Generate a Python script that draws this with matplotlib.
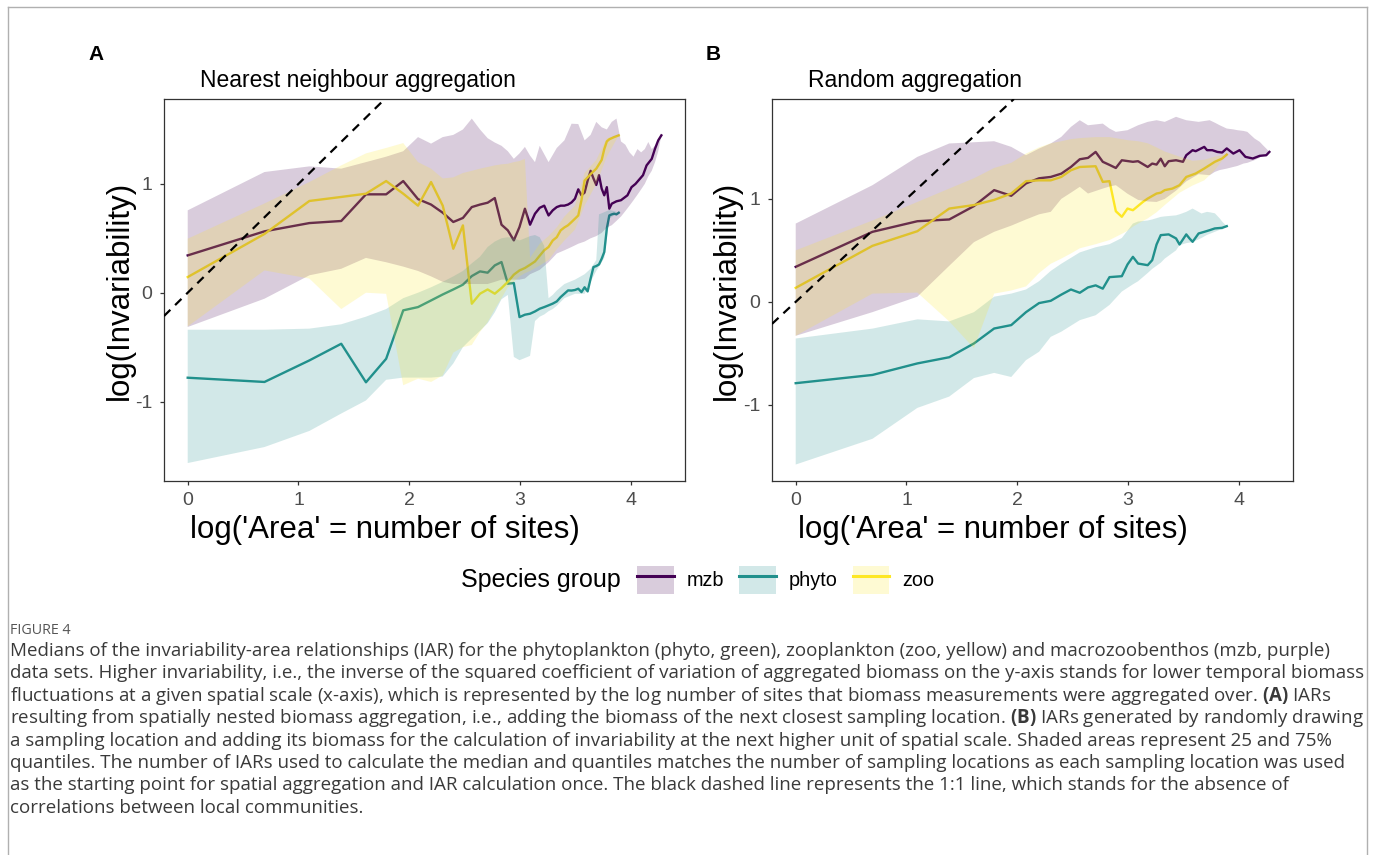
import matplotlib
matplotlib.use('Agg')
import matplotlib.pyplot as plt
from matplotlib.patches import Patch
from matplotlib.lines import Line2D
import numpy as np

plt.rcParams['font.family'] = ['Liberation Sans', 'DejaVu Sans']
plt.rcParams['axes.unicode_minus'] = False
plt.rcParams['mathtext.fontset'] = 'custom'
plt.rcParams['mathtext.rm'] = 'Open Sans'
plt.rcParams['mathtext.bf'] = 'Open Sans:bold'

# ---- Panel A : nearest neighbour aggregation ----
a_mzb_sites = [1, 2, 3, 4, 5, 6, 7, 8, 9, 10, 11, 12, 13, 14, 15, 16, 17, 18, 19, 20,
               21, 22, 23, 24, 25, 26, 27, 28, 29, 30, 31, 32, 33, 34, 35, 36, 37, 38, 39, 40,
               41, 42, 43, 44, 45, 46, 48, 50, 53, 55, 57, 61, 63, 66, 68, 70, 72]
a_mzb_med = [0.343, 0.564, 0.640, 0.659, 0.904, 0.904, 1.026, 0.86, 0.81, 0.735, 0.65, 0.687,
             0.787, 0.81, 0.827, 0.87, 0.625, 0.573, 0.481, 0.604, 0.772, 0.625, 0.726, 0.78,
             0.80, 0.71, 0.757, 0.787, 0.80, 0.80, 0.81, 0.83, 0.864, 0.95, 0.895, 0.92, 1.03,
             1.12, 1.05, 0.99, 1.08, 0.956, 0.895, 0.97, 0.772, 0.818, 0.84, 0.85, 0.895, 0.97,
             1.0, 1.08, 1.17, 1.23, 1.324, 1.40, 1.446]
a_mzb_qsites = [1, 2, 3, 4, 5, 6, 7, 8, 9, 10, 11, 12, 13, 14, 15, 16, 17, 18, 19, 20, 21, 22,
                23, 24, 26, 28, 30, 32, 34, 36, 38, 40, 42, 44, 46, 48, 50, 52, 54, 56, 58, 60,
                62, 64, 66, 68, 70, 72]
a_mzb_q75 = [0.757, 1.109, 1.161, 1.14, 1.2, 1.25, 1.3, 1.43, 1.37, 1.43, 1.45, 1.5, 1.60, 1.5,
             1.42, 1.38, 1.35, 1.3, 1.23, 1.28, 1.34, 1.26, 1.2, 1.35, 1.2, 1.33, 1.40, 1.553,
             1.55, 1.40, 1.45, 1.57, 1.52, 1.50, 1.57, 1.60, 1.39, 1.36, 1.29, 1.25, 1.32, 1.29,
             1.32, 1.385, 1.32, 1.35, 1.37, 1.446]
a_mzb_q25 = [-0.315, -0.055, 0.16, 0.22, 0.32, 0.28, 0.24, 0.2, 0.15, 0.1, 0.08, 0.08, 0.08,
             0.08, 0.08, 0.1, 0.12, 0.12, 0.12, 0.12, 0.13, 0.17, 0.19, 0.21, 0.28, 0.36, 0.39,
             0.42, 0.45, 0.47, 0.5, 0.52, 0.55, 0.6, 0.62, 0.66, 0.7, 0.75, 0.8, 0.85, 0.9, 0.95,
             1.0, 1.07, 1.12, 1.2, 1.3, 1.446]

a_phyto_sites = list(range(1, 50))
a_phyto_med = [-0.781, -0.82, -0.622, -0.469, -0.823, -0.607, -0.162, -0.132, -0.071, -0.016,
               0.03, 0.074, 0.153, 0.196, 0.184, 0.251, 0.282, 0.083, 0.089, -0.224, -0.202,
               -0.193, -0.172, -0.147, -0.132, -0.116, -0.1, -0.08, -0.04, -0.009, 0.021, 0.02,
               0.025, 0.037, 0.006, 0.05, 0.012, 0.129, 0.236, 0.245, 0.26, 0.312, 0.374, 0.59,
               0.71, 0.72, 0.726, 0.72, 0.735]
a_phyto_qsites = [1, 2, 3, 4, 5, 6, 7, 8, 9, 10, 11, 12, 13, 14, 15, 16, 17, 18, 19, 20, 21, 22,
                  23, 24, 25, 26, 27, 28, 30, 33, 36, 38, 40, 41, 42, 43, 44, 45, 47, 49]
a_phyto_q75 = [-0.34, -0.34, -0.33, -0.29, -0.22, -0.15, -0.05, 0.0, 0.05, 0.1, 0.15, 0.2, 0.27,
               0.33, 0.42, 0.47, 0.5, 0.51, 0.5, 0.48, 0.5, 0.52, 0.53, 0.51, 0.43, -0.05, -0.02,
               0.02, 0.08, 0.12, 0.17, 0.22, 0.3, 0.72, 0.73, 0.74, 0.75, 0.76, 0.75, 0.735]
a_phyto_q25 = [-1.565, -1.418, -1.27, -1.11, -0.99, -0.8, -0.78, -0.78, -0.78, -0.77, -0.65,
               -0.5, -0.42, -0.35, -0.28, -0.18, -0.06, -0.02, -0.59, -0.62, -0.6, -0.58, -0.26,
               -0.22, -0.2, -0.17, -0.15, -0.12, -0.05, -0.01, -0.01, 0.1, 0.2, 0.24, 0.28, 0.32,
               0.5, 0.68, 0.71, 0.735]

a_zoo_sites = list(range(1, 36)) + [36, 37, 38, 40, 41, 42, 43, 44, 45, 47, 49]
a_zoo_med = [0.144, 0.54, 0.843, 0.88, 0.91, 1.026, 0.91, 0.80, 1.017, 0.80, 0.404, 0.619,
             -0.101, -0.009, 0.03, -0.009, 0.043, 0.1, 0.166, 0.205, 0.227, 0.257, 0.287, 0.34,
             0.39, 0.42, 0.48, 0.51, 0.573, 0.6, 0.62, 0.65, 0.68, 0.71, 0.85, 1.03, 1.06, 1.09,
             1.14, 1.18, 1.22, 1.32, 1.39, 1.41, 1.43, 1.446]
a_zoo_qsites = [1, 2, 3, 4, 5, 6, 7, 8, 9, 10, 11, 12, 13, 14, 15, 16, 17, 18, 19, 20, 21, 22,
                24, 26, 28, 30, 33, 36, 40, 44, 49]
a_zoo_q75 = [0.496, 0.82, 1.017, 1.17, 1.28, 1.33, 1.375, 1.2, 1.14, 1.05, 1.06, 1.1, 1.12, 1.14,
             1.155, 1.17, 1.18, 1.185, 1.2, 1.21, 1.23, 0.32, 0.45, 0.52, 0.6, 0.7, 0.8, 1.1,
             1.22, 1.42, 1.446]
a_zoo_q25 = [-0.31, 0.205, 0.13, -0.15, 0.0, -0.01, -0.85, -0.79, -0.82, -0.76, -0.55, -0.5,
             -0.48, -0.36, -0.27, -0.15, -0.05, 0.05, 0.1, 0.15, 0.18, 0.2, 0.25, 0.3, 0.4, 0.48,
             0.58, 0.8, 1.0, 1.25, 1.446]

# ---- Panel B : random aggregation ----
b_mzb_sites = [1, 2, 3, 4, 5, 6, 7, 8, 9, 10, 11, 12, 13, 14, 15, 16, 17, 18, 19, 21, 22, 24,
               25, 26, 27, 28, 29, 31, 33, 34, 36, 37, 40, 41, 43, 45, 47, 49, 52, 55, 58, 62,
               66, 70, 72]
b_mzb_med = [0.34, 0.68, 0.783, 0.80, 0.93, 1.085, 1.03, 1.15, 1.2, 1.213, 1.245, 1.31, 1.385,
             1.398, 1.456, 1.36, 1.33, 1.30, 1.375, 1.36, 1.366, 1.31, 1.343, 1.333, 1.39, 1.317,
             1.366, 1.375, 1.36, 1.424, 1.473, 1.463, 1.505, 1.473, 1.473, 1.456, 1.45, 1.49,
             1.44, 1.473, 1.408, 1.392, 1.418, 1.424, 1.456]
b_mzb_qsites = [1, 2, 3, 4, 5, 6, 7, 8, 9, 10, 11, 12, 13, 14, 16, 17, 18, 20, 22, 24, 26, 28,
                31, 34, 38, 42, 44, 46, 49, 52, 54, 57, 59, 63, 66, 68, 70, 72]
b_mzb_q75 = [0.76, 1.133, 1.408, 1.538, 1.55, 1.56, 1.505, 1.424, 1.489, 1.538, 1.602, 1.699,
             1.764, 1.715, 1.731, 1.683, 1.651, 1.667, 1.715, 1.748, 1.764, 1.748, 1.797, 1.764,
             1.748, 1.764, 1.74, 1.715, 1.683, 1.675, 1.667, 1.66, 1.651, 1.586, 1.554, 1.52,
             1.489, 1.456]
b_mzb_q25 = [-0.33, -0.1, 0.05, 0.35, 0.58, 0.68, 0.74, 0.8, 0.85, 0.874, 1.0, 1.06, 1.117,
             1.052, 1.1, 1.12, 1.133, 1.05, 0.99, 0.975, 0.97, 1.0, 1.08, 1.17, 1.24, 1.23, 1.262,
             1.28, 1.294, 1.31, 1.32, 1.343, 1.35, 1.376, 1.4, 1.424, 1.44, 1.456]

b_phyto_sites = [1, 2, 3, 4, 5, 6, 7, 8, 9, 10, 11, 12, 13, 14, 15, 16, 17, 19, 20, 21, 22, 24,
                 25, 26, 27, 29, 31, 32, 34, 35, 36, 38, 40, 42, 44, 47, 49]
b_phyto_med = [-0.79, -0.71, -0.598, -0.538, -0.404, -0.259, -0.226, -0.1, -0.012, 0.01, 0.07,
               0.12, 0.088, 0.14, 0.16, 0.128, 0.24, 0.249, 0.363, 0.437, 0.372, 0.356, 0.405,
               0.557, 0.648, 0.655, 0.616, 0.557, 0.655, 0.616, 0.583, 0.664, 0.68, 0.696, 0.713,
               0.719, 0.735]
b_phyto_qsites = [1, 2, 3, 4, 5, 6, 7, 8, 9, 10, 11, 13, 15, 17, 19, 21, 22, 24, 25, 27, 28, 31,
                  32, 34, 36, 39, 41, 42, 44, 46, 47, 49]
b_phyto_q75 = [-0.356, -0.26, -0.17, -0.19, -0.1, 0.05, 0.08, 0.12, 0.2, 0.3, 0.37, 0.48, 0.53,
               0.56, 0.62, 0.76, 0.78, 0.79, 0.8, 0.825, 0.83, 0.84, 0.85, 0.874, 0.906, 0.858,
               0.874, 0.87, 0.86, 0.81, 0.78, 0.735]
b_phyto_q25 = [-1.58, -1.33, -1.03, -0.92, -0.74, -0.69, -0.73, -0.566, -0.485, -0.34, -0.29,
               -0.178, -0.13, -0.03, 0.1, 0.17, 0.2, 0.28, 0.32, 0.38, 0.42, 0.5, 0.55, 0.57,
               0.58, 0.62, 0.65, 0.66, 0.68, 0.7, 0.7, 0.735]

b_zoo_sites = [1, 2, 3, 4, 5, 6, 7, 8, 9, 10, 11, 12, 13, 15, 16, 17, 18, 19, 20, 21, 23, 24,
               26, 27, 28, 30, 32, 34, 37, 40, 44, 47, 49]
b_zoo_med = [0.136, 0.544, 0.686, 0.906, 0.94, 0.99, 1.052, 1.172, 1.18, 1.18, 1.213, 1.278,
             1.31, 1.317, 1.165, 1.172, 0.88, 0.826, 0.906, 0.89, 0.971, 1.003, 1.052, 1.06,
             1.085, 1.1, 1.133, 1.213, 1.246, 1.295, 1.36, 1.392, 1.43]
b_zoo_qsites = [1, 2, 3, 4, 5, 6, 7, 8, 9, 10, 11, 12, 13, 15, 17, 19, 20, 21, 22, 24, 26, 28,
                32, 36, 40, 44, 49]
b_zoo_q75 = [0.5, 0.79, 0.97, 1.1, 1.2, 1.3, 1.35, 1.44, 1.5, 1.54, 1.56, 1.58, 1.59, 1.6, 1.6,
             1.58, 1.57, 1.565, 1.56, 1.54, 1.5, 1.46, 1.41, 1.37, 1.38, 1.41, 1.43]
b_zoo_q25 = [-0.33, 0.08, 0.09, -0.19, -0.45, 0.08, 0.11, 0.15, 0.28, 0.37, 0.42, 0.47, 0.52,
             0.56, 0.6, 0.66, 0.69, 0.73, 0.76, 0.81, 0.87, 0.94, 1.06, 1.13, 1.18, 1.28, 1.43]

groups = ['mzb', 'phyto', 'zoo']
colours = {'mzb': '#440154', 'phyto': '#21908C', 'zoo': '#FDE725'}

panel_a = {
    'mzb': (a_mzb_sites, a_mzb_med, a_mzb_qsites, a_mzb_q25, a_mzb_q75),
    'phyto': (a_phyto_sites, a_phyto_med, a_phyto_qsites, a_phyto_q25, a_phyto_q75),
    'zoo': (a_zoo_sites, a_zoo_med, a_zoo_qsites, a_zoo_q25, a_zoo_q75),
}
panel_b = {
    'mzb': (b_mzb_sites, b_mzb_med, b_mzb_qsites, b_mzb_q25, b_mzb_q75),
    'phyto': (b_phyto_sites, b_phyto_med, b_phyto_qsites, b_phyto_q25, b_phyto_q75),
    'zoo': (b_zoo_sites, b_zoo_med, b_zoo_qsites, b_zoo_q25, b_zoo_q75),
}

W, H = 1375, 855


def fx(px):
    return px / W


def fy(py):
    return 1 - py / H


def draw_panel(ax, series, ylim):
    # medians first, quantile ribbons on top (tints the lines like in the original)
    for g in groups:
        sites, med, qsites, q25, q75 = series[g]
        ax.plot(np.log(sites), med, color=colours[g], lw=1.7, zorder=2,
                solid_joinstyle='round')
    for g in groups:
        sites, med, qsites, q25, q75 = series[g]
        x = np.log(qsites)
        ax.fill(np.r_[x, x[::-1]], np.r_[q75, q25[::-1]], color=colours[g],
                alpha=0.2, lw=0, zorder=3)
    ax.axline((0, 0), slope=1, color='black', lw=1.6, ls=(0, (4, 3)), zorder=4)

    ax.set_xlim(-0.214, 4.49)
    ax.set_ylim(*ylim)
    ax.set_xticks([0, 1, 2, 3, 4])
    ax.set_yticks([-1, 0, 1])
    ax.set_yticklabels(['-1', '0', '1'])
    for s in ax.spines.values():
        s.set_color('#333333')
        s.set_linewidth(0.9)
    ax.tick_params(length=3.2, width=0.9, color='#333333', labelcolor='#4d4d4d',
                   labelsize=14)
    ax.tick_params(axis='x', pad=5)
    ax.tick_params(axis='y', pad=5)


fig = plt.figure(figsize=(W / 100, H / 100), dpi=100)

ax_a = fig.add_axes([fx(164), fy(481), fx(685) - fx(164), fy(99) - fy(481)])
ax_b = fig.add_axes([fx(772), fy(481), fx(1293) - fx(772), fy(99) - fy(481)])
draw_panel(ax_a, panel_a, (-1.73, 1.78))
draw_panel(ax_b, panel_b, (-1.74, 1.97))

# panel letters, titles and axis labels
fig.text(fx(88), fy(55), 'A', fontsize=15, fontweight='bold', va='center', ha='left')
fig.text(fx(706), fy(55), 'B', fontsize=15, fontweight='bold', va='center', ha='left')
fig.text(fx(200), fy(81), 'Nearest neighbour aggregation', fontsize=16.5, va='center', ha='left')
fig.text(fx(808), fy(81), 'Random aggregation', fontsize=16.5, va='center', ha='left')
for cx in (120, 727):
    fig.text(fx(cx), fy(290), 'log(Invariability)', fontsize=22.5, rotation=90,
             va='center', ha='center')
for cx in (385, 993):
    fig.text(fx(cx), fy(530), "log('Area' = number of sites)", fontsize=22.5,
             va='center', ha='center')

# legend
fig.text(fx(461), fy(580), 'Species group', fontsize=18, va='center', ha='left')
handles = [(Patch(facecolor=colours[g], alpha=0.2, lw=0),
            Line2D([], [], color=colours[g], lw=2.2)) for g in groups]
fig.legend(handles, groups, ncol=3, loc='center left', bbox_to_anchor=(fx(637), fy(580)),
           frameon=False, fontsize=14.3, handlelength=1.84, handleheight=1.8,
           handletextpad=0.67, columnspacing=0.75, borderpad=0, borderaxespad=0)

# frame around the figure block
frame_kw = dict(color='#b0b0b0', lw=1.0, transform=fig.transFigure)
fig.add_artist(Line2D([fx(8), fx(1367)], [fy(7), fy(7)], **frame_kw))
fig.add_artist(Line2D([fx(8), fx(8)], [fy(7), 0], **frame_kw))
fig.add_artist(Line2D([fx(1367), fx(1367)], [fy(7), 0], **frame_kw))

# caption
fig.text(fx(10), fy(630), 'FIGURE 4', fontsize=10.3, color='#555555', family='Open Sans',
         va='center', ha='left')
caption = [
    'Medians of the invariability-area relationships (IAR) for the phytoplankton (phyto, green), '
    'zooplankton (zoo, yellow) and macrozoobenthos (mzb, purple)',
    'data sets. Higher invariability, i.e., the inverse of the squared coefficient of variation of '
    'aggregated biomass on the y-axis stands for lower temporal biomass',
    'fluctuations at a given spatial scale (x-axis), which is represented by the log number of sites '
    r'that biomass measurements were aggregated over. $\mathbf{(A)}$ IARs',
    'resulting from spatially nested biomass aggregation, i.e., adding the biomass of the next '
    r'closest sampling location. $\mathbf{(B)}$ IARs generated by randomly drawing',
    'a sampling location and adding its biomass for the calculation of invariability at the next '
    'higher unit of spatial scale. Shaded areas represent 25 and 75%',
    'quantiles. The number of IARs used to calculate the median and quantiles matches the number of '
    'sampling locations as each sampling location was used',
    'as the starting point for spatial aggregation and IAR calculation once. The black dashed line '
    'represents the 1:1 line, which stands for the absence of',
    'correlations between local communities.',
]
for i, line in enumerate(caption):
    fig.text(fx(10), fy(651 + i * 22.4), line, fontsize=13.5, color='#3a3a3a',
             family='Open Sans', va='center', ha='left')

fig.savefig('out.png', dpi=100)
